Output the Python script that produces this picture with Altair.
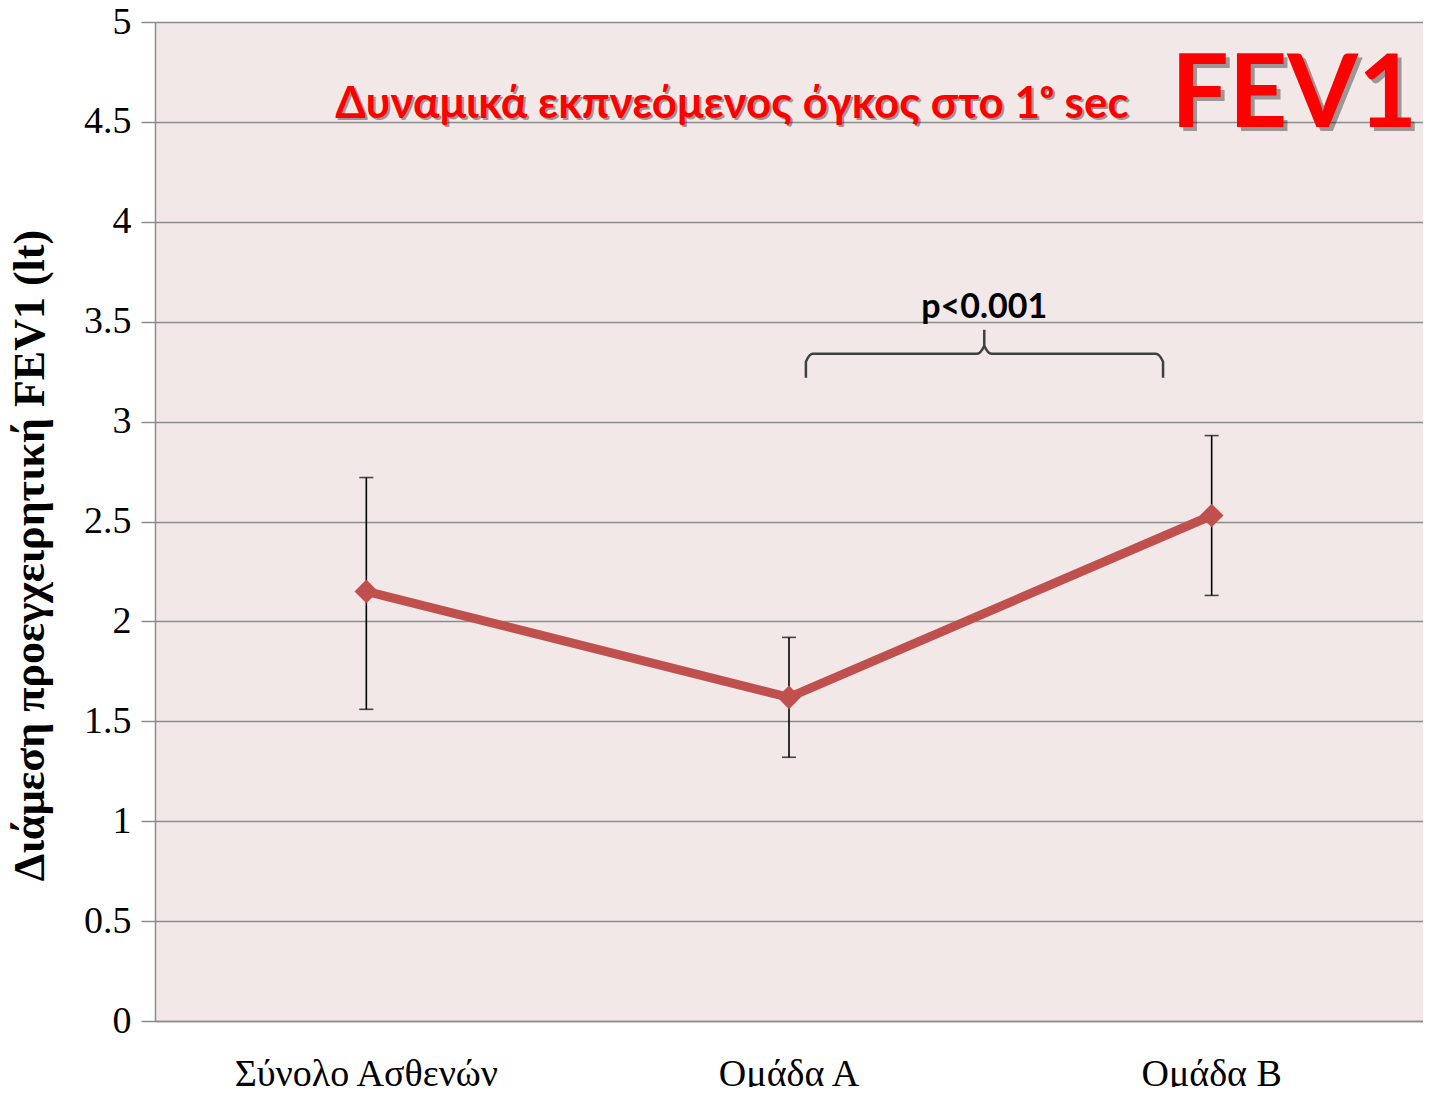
import altair as alt
import pandas as pd

# ---- data ----
categories = ["Σύνολο Ασθενών", "Ομάδα Α", "Ομάδα Β"]
means = [2.15, 1.62, 2.53]
upper = [2.72, 1.92, 2.93]
lower = [1.56, 1.32, 2.13]

y_ticks = [0, 0.5, 1, 1.5, 2, 2.5, 3, 3.5, 4, 4.5, 5]

# significance brace (x in category units 0..3, y in litres)
brace_x = [1.540, 1.540, 1.556, 1.945, 1.962, 1.962, 1.962, 1.979, 2.368, 2.385, 2.385]
brace_y = [3.22, 3.30, 3.34, 3.34, 3.38, 3.46, 3.38, 3.34, 3.34, 3.30, 3.22]
p_label = ["p<0.001"]
p_pos = [(1.962, 3.57)]

title_text = ["Δυναμικά εκπνεόμενος όγκος στο 1ᵒ sec"]
title_pos = [(1.365, 4.52)]
big_text = ["FEV1"]
big_pos = [(2.695, 4.475)]

df = pd.DataFrame({"cat": categories, "mean": means, "hi": upper, "lo": lower})
brace_df = pd.DataFrame({"i": list(range(len(brace_x))), "x": brace_x, "y": brace_y})
p_df = pd.DataFrame({"t": p_label, "x": [p[0] for p in p_pos], "y": [p[1] for p in p_pos]})
t_df = pd.DataFrame({"t": title_text, "x": [p[0] for p in title_pos], "y": [p[1] for p in title_pos]})
f_df = pd.DataFrame({"t": big_text, "x": [p[0] for p in big_pos], "y": [p[1] for p in big_pos]})

serif = "Liberation Serif"
sans = "Lato"
yscale = alt.Scale(domain=[0, 5], nice=False, zero=True)

xcat = alt.X("cat:N", sort=categories, scale=alt.Scale(paddingInner=0, paddingOuter=0),
             axis=alt.Axis(title=None, labelAngle=0, labelFont=serif, labelFontSize=38,
                           labelColor="black", labelPadding=34, labelLimit=0, ticks=False,
                           domainColor="#8C8C8C", domainWidth=1.5))
yq = alt.Y("mean:Q", scale=yscale,
           axis=alt.Axis(values=y_ticks, format="~g", title="Διάμεση προεγχειρητική FEV1 (lt)",
                         titleFont=serif, titleFontSize=44, titleFontWeight="bold",
                         titleColor="black", titleX=-125, titleY=533, titleAngle=-90,
                         titleAlign="center", titleBaseline="middle", titleLimit=0,
                         labelFont=serif, labelFontSize=38, labelColor="black",
                         labelPadding=10, tickSize=14, tickColor="#8C8C8C", tickWidth=1.5,
                         domainColor="#8C8C8C", domainWidth=1.5,
                         grid=True, gridColor="#8C8C8C", gridWidth=1.5))

base = alt.Chart(df)
err = base.mark_rule(color="black", strokeWidth=1.6).encode(
    x=xcat, y=alt.Y("lo:Q", scale=yscale), y2="hi:Q")
cap_hi = base.mark_tick(color="black", thickness=1.6, size=14, orient="horizontal").encode(
    x=xcat, y=alt.Y("hi:Q", scale=yscale))
cap_lo = base.mark_tick(color="black", thickness=1.6, size=14, orient="horizontal").encode(
    x=xcat, y=alt.Y("lo:Q", scale=yscale))
line = base.mark_line(color="#C0504D", strokeWidth=9).encode(x=xcat, y=yq)
pts = base.mark_point(shape="diamond", filled=True, size=560, color="#C0504D", opacity=1).encode(
    x=xcat, y=alt.Y("mean:Q", scale=yscale))

main = alt.layer(err, cap_hi, cap_lo, line, pts)

xq = lambda f: alt.X(f, type="quantitative", scale=alt.Scale(domain=[0, 3], nice=False), axis=None)
yv = alt.Y("y:Q", scale=yscale)

brace = alt.Chart(brace_df).mark_line(color="#404040", strokeWidth=2.5, interpolate="monotone").encode(
    x=xq("x"), y=yv, order="i:Q")
ptext = alt.Chart(p_df).mark_text(font=sans, fontSize=34, fontWeight="bold", color="black",
                                  align="center", baseline="middle").encode(x=xq("x"), y=yv, text="t:N")
tshadow = alt.Chart(t_df).mark_text(font=sans, fontSize=44, fontWeight="bold", color="#000000",
                                    opacity=0.35, dx=2, dy=2, align="center",
                                    baseline="alphabetic").encode(x=xq("x"), y=yv, text="t:N")
ttext = alt.Chart(t_df).mark_text(font=sans, fontSize=44, fontWeight="bold", color="#FF0000",
                                  align="center", baseline="alphabetic").encode(x=xq("x"), y=yv, text="t:N")
fshadow = alt.Chart(f_df).mark_text(font=sans, fontSize=102, fontWeight="bold", color="#000000",
                                    opacity=0.35, dx=4, dy=4, align="center",
                                    baseline="alphabetic").encode(x=xq("x"), y=yv, text="t:N")
ftext = alt.Chart(f_df).mark_text(font=sans, fontSize=102, fontWeight="bold", color="#FF0000",
                                  align="center", baseline="alphabetic").encode(x=xq("x"), y=yv, text="t:N")

annot = alt.layer(brace, ptext, tshadow, ttext, fshadow, ftext)

chart = alt.layer(main, annot).resolve_scale(x="independent").properties(
    width=1268, height=999,
    autosize=alt.AutoSizeParams(type="none"),
    padding={"left": 147, "top": 14, "right": 0, "bottom": 66},
    background="white",
).configure_view(fill="#F2E8E8", stroke=None)

chart.save("out.html", embed_options={"renderer": "svg", "actions": False})
